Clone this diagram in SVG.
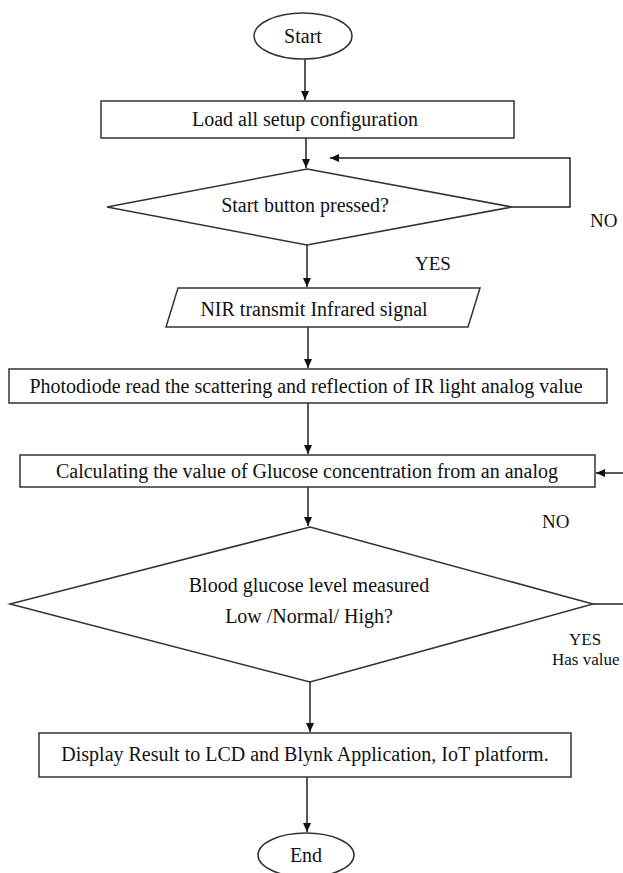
<svg xmlns="http://www.w3.org/2000/svg" width="623" height="873" viewBox="0 0 623 873">
<defs>
<marker id="ah" markerWidth="10" markerHeight="10" refX="9" refY="5" orient="auto" markerUnits="userSpaceOnUse">
<path d="M0,1 L9,5 L0,9 Z" fill="#111"/>
</marker>
<style>
.s{fill:#fff;stroke:#333;stroke-width:1.5}
.t{font-family:"Liberation Serif","Times New Roman",serif;font-size:20px;fill:#111;text-anchor:middle}
.l{font-family:"Liberation Serif","Times New Roman",serif;font-size:19px;fill:#111}
.m{font-family:"Liberation Serif","Times New Roman",serif;font-size:17px;fill:#111}
.c{fill:none;stroke:#222;stroke-width:1.5}
</style>
</defs>
<rect width="623" height="873" fill="#fff"/>
<g id="connectors">
<line class="c" x1="305" y1="59" x2="305" y2="100" marker-end="url(#ah)"/>
<line class="c" x1="306" y1="138" x2="306" y2="168" marker-end="url(#ah)"/>
<polyline class="c" points="512,207 570,207 570,158 330,158" marker-end="url(#ah)"/>
<line class="c" x1="307" y1="245" x2="307" y2="287" marker-end="url(#ah)"/>
<line class="c" x1="308" y1="327" x2="308" y2="368" marker-end="url(#ah)"/>
<line class="c" x1="308" y1="403" x2="308" y2="454" marker-end="url(#ah)"/>
<line class="c" x1="623" y1="473" x2="596" y2="473" marker-end="url(#ah)"/>
<line class="c" x1="308" y1="487" x2="308" y2="526" marker-end="url(#ah)"/>
<line class="c" x1="593" y1="604" x2="623" y2="604"/>
<line class="c" x1="310" y1="682" x2="310" y2="732" marker-end="url(#ah)"/>
<line class="c" x1="307" y1="777" x2="307" y2="832" marker-end="url(#ah)"/>
<text class="l" x="590" y="227">NO</text>
<text class="l" x="415" y="270">YES</text>
<text class="l" x="542" y="528">NO</text>
<text class="m" x="569" y="645">YES</text>
<text class="m" x="552" y="665">Has value</text>
</g>
<g id="start">
<ellipse class="s" cx="303" cy="36" rx="49" ry="23"/>
<text class="t" x="303" y="43">Start</text>
</g>
<g id="load">
<rect class="s" x="101" y="101" width="413" height="37"/>
<text class="t" x="305" y="126">Load all setup configuration</text>
</g>
<g id="decision1">
<polygon class="s" points="307,169 512,207 307,245 107,207"/>
<text class="t" x="305" y="212">Start button pressed?</text>
</g>
<g id="nir">
<polygon class="s" points="178,288 480,288 468,327 166,327"/>
<text class="t" x="314" y="316">NIR transmit Infrared signal</text>
</g>
<g id="photodiode">
<rect class="s" x="9" y="369" width="598" height="34"/>
<text class="t" x="306" y="393">Photodiode read the scattering and reflection of IR light analog value</text>
</g>
<g id="calculate">
<rect class="s" x="20" y="455" width="575" height="32"/>
<text class="t" x="307" y="478">Calculating the value of Glucose concentration from an analog</text>
</g>
<g id="decision2">
<polygon class="s" points="310,527 593,604 310,682 10,604"/>
<text class="t" x="309" y="592">Blood glucose level measured</text>
<text class="t" x="309" y="623">Low /Normal/ High?</text>
</g>
<g id="display">
<rect class="s" x="39" y="733" width="532" height="44"/>
<text class="t" x="305" y="761">Display Result to LCD and Blynk Application, IoT platform.</text>
</g>
<g id="end">
<ellipse class="s" cx="306" cy="855" rx="48" ry="22"/>
<text class="t" x="306" y="862">End</text>
</g>
</svg>
